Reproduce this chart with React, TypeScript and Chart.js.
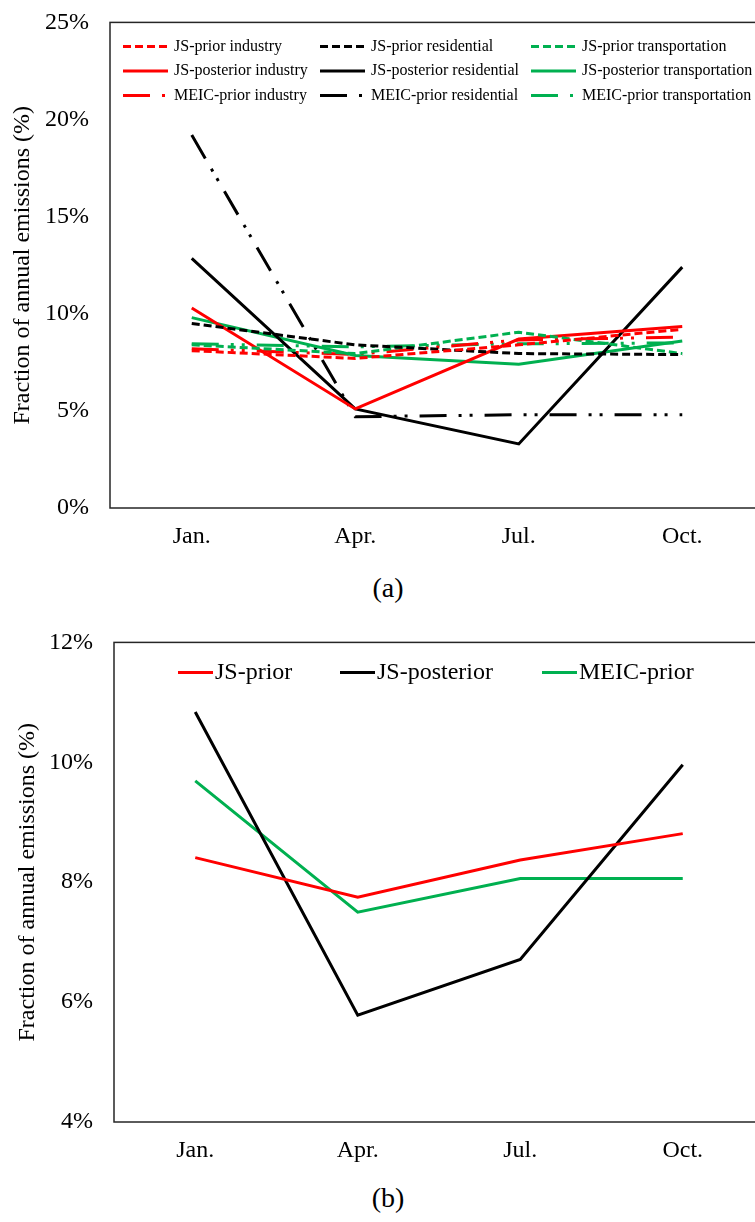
import React, { useEffect, useRef } from "react";
import { Chart, registerables } from "chart.js";

Chart.register(...registerables);

// ---------- data ----------
const months = ["Jan.", "Apr.", "Jul.", "Oct."];

// panel (a): sector fractions (%)
const jsPriorIndustry = [8.1, 7.7, 8.4, 9.2];
const jsPriorResidential = [9.5, 8.4, 7.95, 7.9];
const jsPriorTransportation = [8.4, 7.95, 9.05, 7.95];
const jsPosteriorIndustry = [10.3, 5.1, 8.7, 9.35];
const jsPosteriorResidential = [12.85, 5.1, 3.3, 12.4];
const jsPosteriorTransportation = [9.8, 7.85, 7.4, 8.6];
const meicPriorIndustry = [8.2, 7.9, 8.65, 8.8];
const meicPriorResidential = [19.2, 4.7, 4.8, 4.8];
const meicPriorTransportation = [8.45, 8.3, 8.45, 8.5];

// panel (b): total fractions (%)
const totalJsPrior = [8.41, 7.75, 8.37, 8.81];
const totalJsPosterior = [10.84, 5.78, 6.71, 9.96];
const totalMeicPrior = [9.69, 7.5, 8.06, 8.06];

const yTicksA = [0, 5, 10, 15, 20, 25];
const yTicksB = [4, 6, 8, 10, 12];

// ---------- styles ----------
const RED = "#FF0000";
const BLACK = "#000000";
const GREEN = "#00B050";
const DASH = [8, 4];
const DASH_DOT = [27, 12, 3, 8, 3, 12];
const FONT = "'Liberation Serif', 'Times New Roman', serif";

const frameAndLegend = {
  id: "frameAndLegend",
  beforeDatasetsDraw(chart: any) {
    const { ctx, chartArea } = chart;
    ctx.save();
    ctx.strokeStyle = "#262626";
    ctx.lineWidth = 1.5;
    ctx.strokeRect(chartArea.left, chartArea.top, chartArea.right - chartArea.left, chartArea.bottom - chartArea.top);
    ctx.restore();
  },
  afterDraw(chart: any, _args: any, opts: any) {
    if (!opts || !opts.cols) return;
    const { ctx, chartArea } = chart;
    ctx.save();
    chart.data.datasets.forEach((ds: any, i: number) => {
      const col = i % opts.cols.length;
      const row = Math.floor(i / opts.cols.length);
      const x = chartArea.left + opts.cols[col];
      const y = chartArea.top + opts.rows[row];
      ctx.strokeStyle = ds.borderColor;
      ctx.lineWidth = ds.borderWidth;
      ctx.lineCap = "butt";
      ctx.setLineDash(ds.borderDash || []);
      ctx.beginPath();
      ctx.moveTo(x, y);
      ctx.lineTo(x + opts.sample, y);
      ctx.stroke();
      ctx.setLineDash([]);
      ctx.fillStyle = "#000";
      ctx.font = opts.font;
      ctx.textBaseline = "middle";
      ctx.textAlign = "left";
      ctx.fillText(ds.label, x + opts.sample + opts.gap, y);
    });
    ctx.restore();
  },
};

function ds(label: string, data: number[], color: string, dash: number[]) {
  return {
    label,
    data,
    borderColor: color,
    backgroundColor: color,
    borderWidth: 3,
    borderDash: dash,
    pointRadius: 0,
    tension: 0,
    fill: false,
  };
}

function makeOptions(min: number, max: number, ticks: number[], axisWidth: number, titlePad: number, legend: any) {
  return {
    responsive: false,
    animation: false,
    devicePixelRatio: 1,
    layout: { padding: { top: 0, left: 0, right: 0, bottom: 0 } },
    plugins: {
      legend: { display: false },
      tooltip: { enabled: false },
      frameAndLegend: legend,
    },
    scales: {
      x: {
        offset: true,
        grid: { display: false, drawTicks: false },
        border: { display: false },
        ticks: { color: "#000", font: { family: FONT, size: 24 }, padding: 14 },
        afterFit: (s: any) => { s.height = 60; },
      },
      y: {
        min,
        max,
        grid: { display: false, drawTicks: false },
        border: { display: false },
        afterBuildTicks: (s: any) => { s.ticks = ticks.map((v) => ({ value: v })); },
        ticks: {
          color: "#000",
          font: { family: FONT, size: 24 },
          padding: 21,
          callback: (v: any) => `${v}%`,
        },
        title: {
          display: true,
          text: "Fraction of annual emissions (%)",
          color: "#000",
          font: { family: FONT, size: 24, weight: "normal" },
          padding: { top: titlePad, bottom: 0 },
        },
        afterFit: (s: any) => { s.width = axisWidth; },
      },
    },
  };
}

export default function App() {
  const refA = useRef<HTMLCanvasElement>(null);
  const refB = useRef<HTMLCanvasElement>(null);

  useEffect(() => {
    const a = new Chart(refA.current as HTMLCanvasElement, {
      type: "line",
      data: {
        labels: months,
        datasets: [
          ds("JS-prior industry", jsPriorIndustry, RED, DASH),
          ds("JS-prior residential", jsPriorResidential, BLACK, DASH),
          ds("JS-prior transportation", jsPriorTransportation, GREEN, DASH),
          ds("JS-posterior industry", jsPosteriorIndustry, RED, []),
          ds("JS-posterior residential", jsPosteriorResidential, BLACK, []),
          ds("JS-posterior transportation", jsPosteriorTransportation, GREEN, []),
          ds("MEIC-prior industry", meicPriorIndustry, RED, DASH_DOT),
          ds("MEIC-prior residential", meicPriorResidential, BLACK, DASH_DOT),
          ds("MEIC-prior transportation", meicPriorTransportation, GREEN, DASH_DOT),
        ],
      },
      options: makeOptions(0, 25, yTicksA, 110, 8, {
        cols: [13, 210, 421],
        rows: [24, 48.5, 73],
        sample: 45,
        gap: 6,
        font: `16px ${FONT}`,
      }) as any,
      plugins: [frameAndLegend],
    });
    const b = new Chart(refB.current as HTMLCanvasElement, {
      type: "line",
      data: {
        labels: months,
        datasets: [
          ds("JS-prior", totalJsPrior, RED, []),
          ds("JS-posterior", totalJsPosterior, BLACK, []),
          ds("MEIC-prior", totalMeicPrior, GREEN, []),
        ],
      },
      options: makeOptions(4, 12, yTicksB, 114, 13, {
        cols: [64, 226, 428],
        rows: [30],
        sample: 35,
        gap: 2,
        font: `24px ${FONT}`,
      }) as any,
      plugins: [frameAndLegend],
    });
    return () => {
      a.destroy();
      b.destroy();
    };
  }, []);

  const caption: React.CSSProperties = {
    position: "absolute",
    left: 288,
    width: 200,
    textAlign: "center",
    fontFamily: FONT,
    fontSize: 28,
    lineHeight: "32px",
    color: "#000",
  };

  return (
    <div style={{ position: "absolute", left: 0, top: 0, width: 755, height: 1222, overflow: "hidden", background: "#fff" }}>
      <canvas ref={refA} width={764} height={581} style={{ position: "absolute", left: 0, top: -13 }} />
      <div style={{ ...caption, top: 572 }}>(a)</div>
      <canvas ref={refB} width={764} height={575} style={{ position: "absolute", left: 0, top: 607 }} />
      <div style={{ ...caption, top: 1182 }}>(b)</div>
    </div>
  );
}
